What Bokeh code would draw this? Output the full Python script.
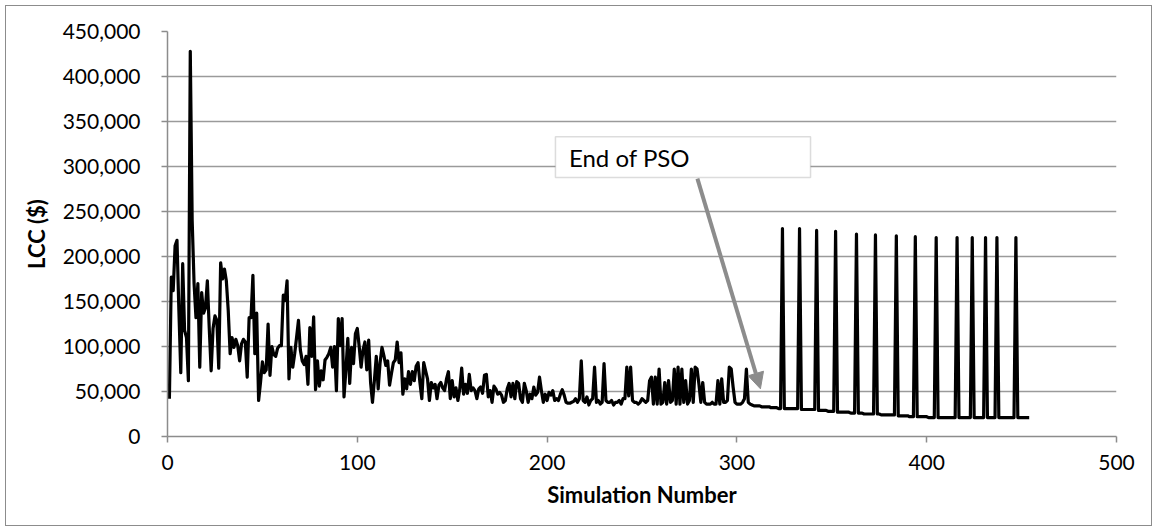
from bokeh.plotting import figure
from bokeh.models import (NumeralTickFormatter, FixedTicker, BoxAnnotation, Label,
                          Arrow, NormalHead, Range1d)
from bokeh.embed import file_html
from bokeh.resources import INLINE

# LCC values in thousands of dollars, simulation 1..454
lcc_thousands = [
    42, 177, 162, 212, 218, 140, 71, 192, 118, 110,
    62, 428, 240, 170, 132, 170, 77, 160, 137, 143,
    173, 120, 73, 120, 134, 129, 76, 193, 175, 186,
    173, 140, 92, 110, 99, 108, 101, 84, 103, 108,
    105, 66, 132, 132, 179, 92, 137, 40, 60, 83,
    71, 74, 125, 68, 100, 91, 89, 98, 101, 101,
    157, 151, 173, 64, 99, 77, 92, 110, 129, 96,
    84, 80, 89, 58, 121, 89, 133, 52, 84, 56,
    73, 63, 85, 88, 92, 99, 77, 100, 51, 131,
    101, 131, 44, 74, 109, 59, 99, 81, 114, 120,
    100, 77, 96, 105, 74, 107, 60, 38, 62, 89,
    53, 82, 99, 90, 79, 84, 57, 70, 82, 85,
    105, 82, 93, 47, 64, 53, 72, 58, 72, 62,
    78, 82, 60, 42, 82, 73, 64, 40, 60, 54,
    58, 42, 57, 60, 54, 51, 64, 72, 42, 62,
    44, 54, 40, 53, 76, 47, 58, 48, 69, 51,
    54, 51, 42, 53, 55, 48, 68, 69, 44, 51,
    38, 56, 53, 47, 49, 46, 38, 40, 53, 59,
    44, 59, 42, 61, 59, 42, 38, 59, 51, 38,
    47, 42, 55, 46, 49, 66, 51, 38, 47, 40,
    49, 46, 51, 40, 42, 40, 47, 52, 46, 38,
    37, 37, 38, 39, 42, 38, 42, 84, 40, 38,
    44, 35, 40, 42, 77, 38, 40, 36, 38, 81,
    40, 38, 38, 40, 35, 38, 38, 40, 36, 42,
    42, 77, 45, 77, 40, 38, 38, 36, 38, 42,
    40, 38, 40, 62, 66, 36, 66, 36, 75, 36,
    38, 60, 36, 62, 38, 40, 75, 36, 77, 36,
    75, 38, 62, 36, 40, 75, 38, 77, 75, 58,
    38, 60, 38, 36, 36, 36, 38, 36, 36, 62,
    36, 64, 38, 38, 40, 77, 75, 55, 38, 36,
    36, 36, 38, 42, 75, 38, 36, 35, 34, 34,
    34, 34, 33, 33, 33, 33, 33, 32, 32, 32,
    32, 31, 31, 231, 31, 31, 31, 31, 31, 31,
    31, 31, 231, 30, 30, 30, 30, 30, 30, 30,
    30, 229, 29, 29, 29, 29, 29, 28, 28, 28,
    28, 228, 27, 27, 27, 27, 27, 27, 27, 26,
    26, 26, 225, 26, 26, 26, 25, 25, 25, 25,
    25, 25, 224, 25, 25, 24, 24, 24, 24, 24,
    24, 24, 24, 223, 23, 23, 23, 23, 23, 23,
    22, 22, 22, 222, 22, 22, 22, 22, 22, 22,
    21, 21, 21, 21, 221, 21, 21, 21, 21, 21,
    21, 21, 21, 21, 21, 221, 21, 21, 21, 21,
    21, 21, 21, 221, 21, 21, 21, 21, 21, 21,
    221, 21, 21, 21, 21, 21, 221, 21, 21, 21,
    21, 21, 21, 21, 21, 21, 221, 21, 21, 21,
    21, 21, 21, 21,
]
lcc = [v * 1000 for v in lcc_thousands]
simulation = list(range(1, len(lcc) + 1))

x_ticks = [0, 100, 200, 300, 400, 500]
y_ticks = [0, 50000, 100000, 150000, 200000, 250000, 300000, 350000, 400000, 450000]

FONT = "Lato"
GRAY = "#8c8c8c"

p = figure(width=1157, height=531, output_backend="svg", toolbar_location=None,
           x_range=Range1d(0, 500), y_range=Range1d(0, 450000),
           min_border_left=167, min_border_right=41, min_border_top=31,
           min_border_bottom=95)
p.outline_line_color = None
p.background_fill_color = "white"
p.border_fill_alpha = 0
# outer chart border drawn as a CSS outline of the plot host element
p.styles = {"outline": "1.5px solid #8c8c8c", "outline-offset": "-6px",
            "background-color": "white"}

p.line(simulation, lcc, line_color="black", line_width=3.2, line_join="round")

p.xaxis.ticker = FixedTicker(ticks=x_ticks)
p.yaxis.ticker = FixedTicker(ticks=y_ticks)
p.yaxis.formatter = NumeralTickFormatter(format="0,0")
for ax in (p.xaxis[0], p.yaxis[0]):
    ax.axis_line_color = GRAY
    ax.axis_line_width = 1.5
    ax.major_tick_line_color = GRAY
    ax.major_tick_line_width = 1.5
    ax.major_tick_out = 6
    ax.major_tick_in = 0
    ax.minor_tick_line_color = None
    ax.major_label_text_font = FONT
    ax.major_label_text_font_size = "21px"
    ax.major_label_text_color = "black"
    ax.axis_label_text_font = FONT
    ax.axis_label_text_font_style = "bold"
    ax.axis_label_text_font_size = "22px"
    ax.axis_label_text_color = "black"
p.xaxis.axis_label = "Simulation Number"
p.yaxis.axis_label = "LCC ($)"
p.yaxis.major_label_standoff = 21
p.xaxis.major_label_standoff = 12
p.xaxis.axis_label_standoff = 8
p.yaxis.axis_label_standoff = 10

p.xgrid.grid_line_color = None
p.ygrid.grid_line_color = "#9a9a9a"
p.ygrid.grid_line_width = 1.5

# callout
p.add_layout(BoxAnnotation(left=204.4, right=338.8, bottom=287800, top=333000,
                           fill_color="white", fill_alpha=1.0,
                           line_color=GRAY, line_width=1.5))
p.add_layout(Label(x=211.5, y=310500, text="End of PSO", text_font=FONT,
                   text_font_size="24px", text_color="black",
                   text_baseline="middle", text_align="left"))
p.add_layout(Arrow(end=NormalHead(size=16, fill_color=GRAY, line_color=GRAY),
                   x_start=279.2, y_start=286500, x_end=312.4, y_end=53000,
                   line_color=GRAY, line_width=4))

open("out.html", "w").write(file_html(p, INLINE))
